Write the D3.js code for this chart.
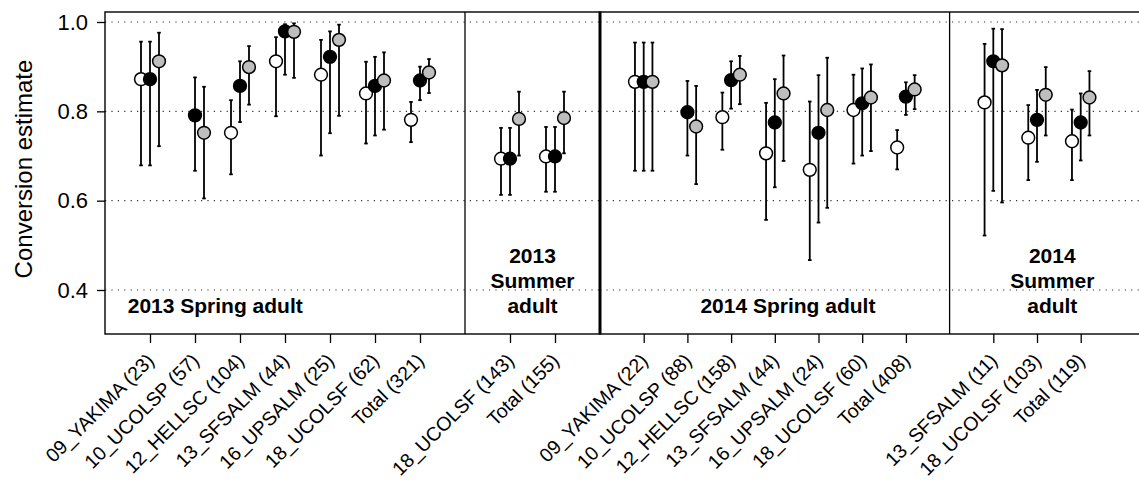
<!DOCTYPE html>
<html>
<head>
<meta charset="utf-8">
<script src="https://cdn.jsdelivr.net/npm/d3@7/dist/d3.min.js"></script>
<style>
  html, body { margin: 0; padding: 0; background: #ffffff; }
  svg { display: block; font-family: "Liberation Sans", Arial, sans-serif; }
</style>
</head>
<body>
<script>
// ---- 2013 run: sites with sample sizes, grouped by season ----
const cats2013 = ["09_YAKIMA (23)", "10_UCOLSP (57)", "12_HELLSC (104)", "13_SFSALM (44)",
                  "16_UPSALM (25)", "18_UCOLSF (62)", "Total (321)", "18_UCOLSF (143)", "Total (155)"];
const season2013 = ["2013 Spring adult", "2013 Spring adult", "2013 Spring adult", "2013 Spring adult",
                    "2013 Spring adult", "2013 Spring adult", "2013 Spring adult",
                    "2013 Summer adult", "2013 Summer adult"];

const whiteEst2013 = [0.872, null, 0.752, 0.912, 0.882, 0.840, 0.781, 0.694, 0.699];
const whiteLo2013  = [0.679, null, 0.659, 0.789, 0.701, 0.728, 0.731, 0.613, 0.620];
const whiteHi2013  = [0.956, null, 0.825, 0.966, 0.960, 0.911, 0.821, 0.763, 0.765];
const blackEst2013 = [0.872, 0.791, 0.857, 0.979, 0.922, 0.857, 0.869, 0.694, 0.699];
const blackLo2013  = [0.679, 0.667, 0.776, 0.882, 0.751, 0.746, 0.825, 0.613, 0.620];
const blackHi2013  = [0.956, 0.876, 0.912, 0.995, 0.979, 0.922, 0.900, 0.763, 0.765];
const grayEst2013  = [0.912, 0.752, 0.899, 0.978, 0.960, 0.869, 0.887, 0.783, 0.785];
const grayLo2013   = [0.722, 0.605, 0.815, 0.875, 0.790, 0.759, 0.841, 0.701, 0.706];
const grayHi2013   = [0.976, 0.855, 0.946, 0.997, 0.994, 0.932, 0.917, 0.844, 0.844];

// ---- 2014 run ----
const cats2014 = ["09_YAKIMA (22)", "10_UCOLSP (88)", "12_HELLSC (158)", "13_SFSALM (44)",
                  "16_UPSALM (24)", "18_UCOLSF (60)", "Total (408)",
                  "13_SFSALM (11)", "18_UCOLSF (103)", "Total (119)"];
const season2014 = ["2014 Spring adult", "2014 Spring adult", "2014 Spring adult", "2014 Spring adult",
                    "2014 Spring adult", "2014 Spring adult", "2014 Spring adult",
                    "2014 Summer adult", "2014 Summer adult", "2014 Summer adult"];

const whiteEst2014 = [0.866, null, 0.787, 0.706, 0.669, 0.803, 0.719, 0.820, 0.741, 0.733];
const whiteLo2014  = [0.667, null, 0.714, 0.557, 0.467, 0.683, 0.670, 0.522, 0.646, 0.646];
const whiteHi2014  = [0.954, null, 0.842, 0.819, 0.822, 0.882, 0.758, 0.951, 0.814, 0.804];
const blackEst2014 = [0.866, 0.798, 0.870, 0.775, 0.752, 0.818, 0.833, 0.912, 0.781, 0.775];
const blackLo2014  = [0.667, 0.701, 0.806, 0.630, 0.551, 0.701, 0.792, 0.622, 0.687, 0.690];
const blackHi2014  = [0.954, 0.868, 0.912, 0.872, 0.881, 0.896, 0.865, 0.985, 0.848, 0.840];
const grayEst2014  = [0.866, 0.766, 0.882, 0.840, 0.803, 0.831, 0.849, 0.903, 0.837, 0.831];
const grayLo2014   = [0.667, 0.637, 0.816, 0.689, 0.584, 0.711, 0.805, 0.596, 0.746, 0.746];
const grayHi2014   = [0.954, 0.857, 0.924, 0.925, 0.920, 0.905, 0.881, 0.984, 0.899, 0.890];

const yTicks = [0.4, 0.6, 0.8, 1.0];
const yTitle = "Conversion estimate";

// ---- layout ----
const W = 1139, H = 481;
const plotTop = 12, plotBottom = 334;
const svg = d3.select("body").append("svg").attr("width", W).attr("height", H);

const y = d3.scaleLinear().domain([0.3015, 1.0224]).range([plotBottom, plotTop]);

// slot positions: one slot per site, one empty slot between seasons
function slotsFor(seasons) {
  const out = [];
  let s = 0;
  seasons.forEach((p, i) => {
    s += (i > 0 && p !== seasons[i - 1]) ? 2 : 1;
    out.push(s);
  });
  return out;
}

const panels = [
  {
    cats: cats2013, seasons: season2013,
    x: d3.scaleLinear().domain([0, 11]).range([105, 600]),
    springLabelAt: 2.45,
    series: [
      { fill: "#ffffff", est: whiteEst2013, lo: whiteLo2013, hi: whiteHi2013, off: -0.2 },
      { fill: "#000000", est: blackEst2013, lo: blackLo2013, hi: blackHi2013, off: 0 },
      { fill: "#bebebe", est: grayEst2013,  lo: grayLo2013,  hi: grayHi2013,  off: 0.2 }
    ],
    yAxis: true
  },
  {
    cats: cats2014, seasons: season2014,
    x: d3.scaleLinear().domain([0, 12.7]).range([600, 1155]),
    springLabelAt: 4.3,
    series: [
      { fill: "#ffffff", est: whiteEst2014, lo: whiteLo2014, hi: whiteHi2014, off: -0.2 },
      { fill: "#000000", est: blackEst2014, lo: blackLo2014, hi: blackHi2014, off: 0 },
      { fill: "#bebebe", est: grayEst2014,  lo: grayLo2014,  hi: grayHi2014,  off: 0.2 }
    ],
    yAxis: false
  }
];

panels.forEach(p => {
  const x = p.x;
  const slots = slotsFor(p.seasons);
  const [x0, x1] = x.range();
  const g = svg.append("g");

  // dotted reference lines
  g.selectAll("line.grid").data(yTicks).enter().append("line")
    .attr("x1", x0).attr("x2", x1)
    .attr("y1", d => y(d)).attr("y2", d => y(d))
    .attr("stroke", "#333").attr("stroke-width", 1.1)
    .attr("stroke-dasharray", "1.2,5.2");

  // season dividers
  const breaks = [];
  for (let i = 1; i < slots.length; i++) {
    if (p.seasons[i] !== p.seasons[i - 1]) breaks.push((slots[i] + slots[i - 1]) / 2);
  }
  g.selectAll("line.div").data(breaks).enter().append("line")
    .attr("x1", d => x(d)).attr("x2", d => x(d))
    .attr("y1", plotTop).attr("y2", plotBottom)
    .attr("stroke", "#000").attr("stroke-width", 1.3);

  // season labels
  const seasonNames = Array.from(new Set(p.seasons));
  seasonNames.forEach((name, k) => {
    const txt = g.append("text")
      .attr("text-anchor", "middle")
      .attr("font-weight", "bold")
      .attr("font-size", 21)
      .attr("fill", "#000");
    if (k === 0) {
      txt.attr("x", x(p.springLabelAt)).attr("y", y(0.349)).text(name);
    } else {
      // summer panels: stacked words, centred in the remaining space
      const first = breaks[0];
      const cx = x((first + x.domain()[1]) / 2);
      const words = name.split(" ");
      words.forEach((w, j) => {
        txt.append("tspan")
          .attr("x", cx)
          .attr("y", y(0.349) - (words.length - 1 - j) * 25)
          .text(w);
      });
    }
  });

  // error bars and points, drawn series by series
  p.series.forEach(s => {
    const pts = p.cats.map((c, i) => ({
      cx: x(slots[i] + s.off), est: s.est[i], lo: s.lo[i], hi: s.hi[i]
    })).filter(d => d.est !== null);

    const sg = g.append("g");
    sg.selectAll("line.bar").data(pts).enter().append("line")
      .attr("x1", d => d.cx).attr("x2", d => d.cx)
      .attr("y1", d => y(d.lo)).attr("y2", d => y(d.hi))
      .attr("stroke", "#000").attr("stroke-width", 1.8);
    ["lo", "hi"].forEach(k => {
      sg.selectAll("line.cap" + k).data(pts).enter().append("line")
        .attr("x1", d => d.cx - 1.8).attr("x2", d => d.cx + 1.8)
        .attr("y1", d => y(d[k])).attr("y2", d => y(d[k]))
        .attr("stroke", "#000").attr("stroke-width", 1.8);
    });
    sg.selectAll("circle").data(pts).enter().append("circle")
      .attr("cx", d => d.cx).attr("cy", d => y(d.est))
      .attr("r", 6.4)
      .attr("fill", s.fill)
      .attr("stroke", "#000").attr("stroke-width", 1.5);
  });

  // frame
  g.append("rect")
    .attr("x", x0).attr("y", plotTop)
    .attr("width", x1 - x0).attr("height", plotBottom - plotTop)
    .attr("fill", "none").attr("stroke", "#000").attr("stroke-width", 1.4);

  // x axis with rotated site labels
  const xAxis = d3.axisBottom(x)
    .tickValues(slots)
    .tickSize(9)
    .tickFormat((d, i) => p.cats[i]);
  const gx = g.append("g").attr("transform", `translate(0,${plotBottom})`).call(xAxis);
  gx.select(".domain").remove();
  gx.selectAll(".tick line").attr("stroke", "#000").attr("stroke-width", 1.3);
  gx.selectAll(".tick text")
    .attr("font-size", 19.5)
    .attr("font-family", "'Liberation Sans', Arial, sans-serif")
    .attr("fill", "#000")
    .attr("text-anchor", "end")
    .attr("dy", "0.35em")
    .attr("y", 0)
    .attr("transform", "translate(0,23) rotate(-45)");

  if (p.yAxis) {
    const yAxis = d3.axisLeft(y).tickValues(yTicks).tickSize(8).tickPadding(9)
      .tickFormat(d3.format(".1f"));
    const gy = g.append("g").attr("transform", `translate(${x0},0)`).call(yAxis);
    gy.select(".domain").remove();
    gy.selectAll(".tick line").attr("stroke", "#000").attr("stroke-width", 1.3);
    gy.selectAll(".tick text")
      .attr("font-size", 22)
      .attr("font-family", "'Liberation Sans', Arial, sans-serif")
      .attr("fill", "#000");
  }
});

// the two years' frames meet in a heavier rule
svg.append("line")
  .attr("x1", panels[0].x.range()[1]).attr("x2", panels[0].x.range()[1])
  .attr("y1", plotTop).attr("y2", plotBottom)
  .attr("stroke", "#000").attr("stroke-width", 3);

// y-axis title
svg.append("text")
  .attr("transform", `translate(32,${(y(0.4) + y(1.0)) / 2 + 13}) rotate(-90)`)
  .attr("text-anchor", "middle")
  .attr("font-size", 24)
  .attr("fill", "#000")
  .text(yTitle);
</script>
</body>
</html>
